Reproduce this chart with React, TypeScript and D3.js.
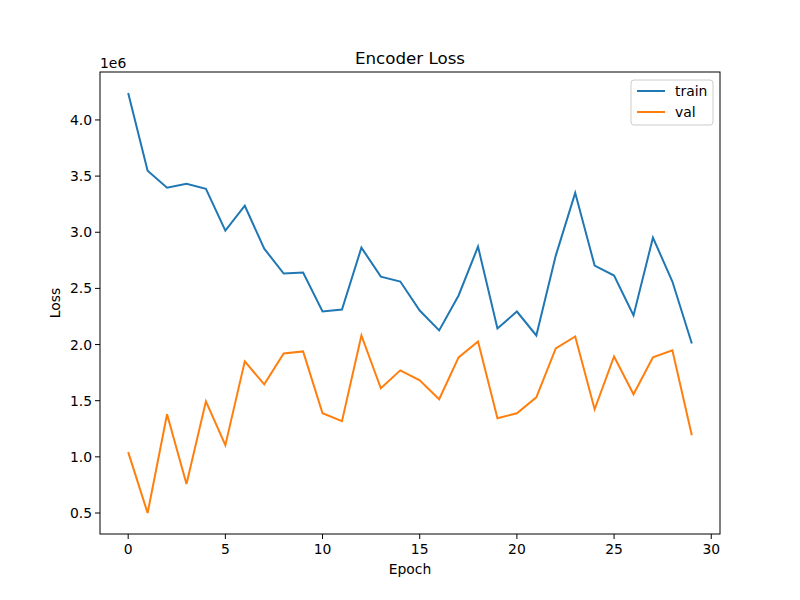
import React from "react";
import * as d3 from "d3";

const epochs = d3.range(30);
const train = [4.24,3.547,3.396,3.431,3.387,3.014,3.236,2.854,2.632,2.641,2.294,2.312,2.863,2.605,2.561,2.303,2.126,2.437,2.872,2.143,2.294,2.081,2.792,3.351,2.703,2.614,2.259,2.952,2.561,2.010];
const val = [1.042,0.5,1.379,0.758,1.495,1.104,1.85,1.646,1.921,1.939,1.388,1.317,2.081,1.61,1.77,1.681,1.513,1.886,2.028,1.344,1.388,1.53,1.966,2.072,1.424,1.894,1.557,1.886,1.948,1.193];
const yTicks = [0.5,1.0,1.5,2.0,2.5,3.0,3.5,4.0];
const xTicks = [0,5,10,15,20,25,30];

export default function App() {
  const L = 100, R = 720, T = 72, B = 534;
  const x = d3.scaleLinear().domain([-1.45, 30.45]).range([L, R]);
  const y = d3.scaleLinear().domain([0.313, 4.427]).range([B, T]);
  const line = d3.line<number>().x((_, i) => x(epochs[i])).y(d => y(d));
  const font = "DejaVu Sans";
  return (
    <svg width={800} height={600} style={{ position: "absolute", left: 0, top: 0, background: "#fff" }} fontFamily={font}>
      <rect x={0} y={0} width={800} height={600} fill="#fff" />
      <path d={line(train)!} fill="none" stroke="#1f77b4" strokeWidth={2} />
      <path d={line(val)!} fill="none" stroke="#ff7f0e" strokeWidth={2} />
      <rect x={L} y={T} width={R - L} height={B - T} fill="none" stroke="#000" strokeWidth={1} />
      {xTicks.map(t => (
        <g key={t}>
          <line x1={x(t)} x2={x(t)} y1={B} y2={B + 5} stroke="#000" />
          <text x={x(t)} y={B + 20} fontSize={13.9} textAnchor="middle">{t}</text>
        </g>
      ))}
      {yTicks.map(t => (
        <g key={t}>
          <line x1={L - 5} x2={L} y1={y(t)} y2={y(t)} stroke="#000" />
          <text x={L - 8} y={y(t) + 5} fontSize={13.9} textAnchor="end">{t.toFixed(1)}</text>
        </g>
      ))}
      <text x={L} y={T - 4} fontSize={13.9}>1e6</text>
      <text x={410} y={64} fontSize={16.7} textAnchor="middle">Encoder Loss</text>
      <text x={410} y={574} fontSize={13.9} textAnchor="middle">Epoch</text>
      <text transform={`translate(60,${(T + B) / 2}) rotate(-90)`} fontSize={13.9} textAnchor="middle">Loss</text>
      <rect x={631} y={80} width={82} height={45} rx={3} fill="#fff" stroke="#ccc" />
      <line x1={637} x2={665} y1={91} y2={91} stroke="#1f77b4" strokeWidth={2} />
      <text x={675} y={96} fontSize={13.9}>train</text>
      <line x1={637} x2={665} y1={112} y2={112} stroke="#ff7f0e" strokeWidth={2} />
      <text x={675} y={117} fontSize={13.9}>val</text>
    </svg>
  );
}
